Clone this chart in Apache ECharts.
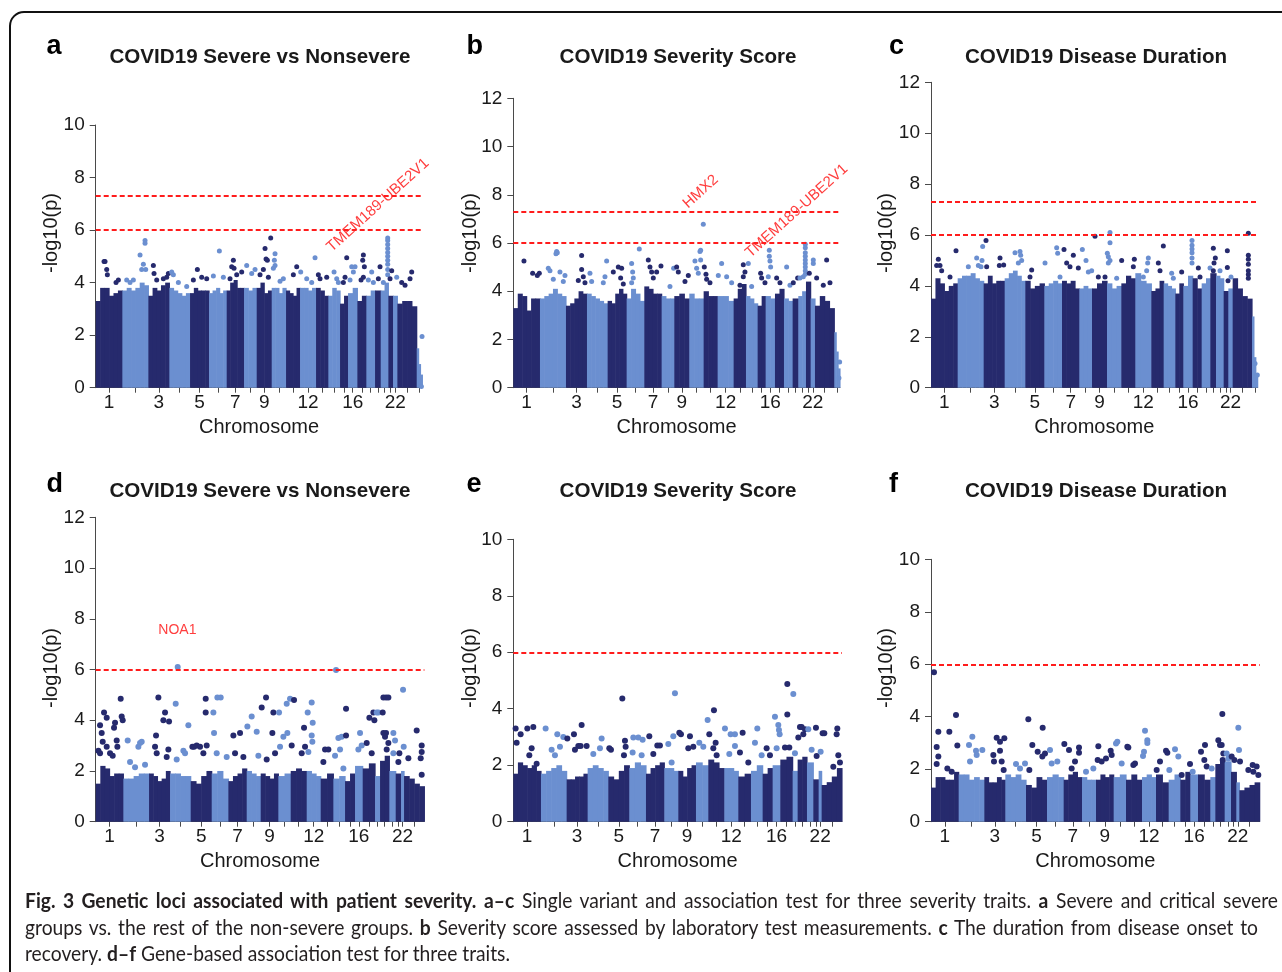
<!DOCTYPE html>
<html><head><meta charset="utf-8">
<script src="https://cdn.jsdelivr.net/npm/echarts@6/dist/echarts.min.js"></script>
<style>
html,body{margin:0;padding:0;background:#fff;width:1282px;height:972px;overflow:hidden;}
#chart{position:absolute;left:0;top:0;width:1282px;height:972px;}
#caption{position:absolute;left:25px;top:887px;color:#231f20;font-family:Lato,"Open Sans",sans-serif;transform-origin:0 0;}
#caption div{white-space:normal;text-align:justify;text-align-last:justify;overflow:hidden;}
#caption div.last{text-align:left;text-align-last:left;}
#caption b{font-weight:bold;}
</style></head><body>
<div id="chart"></div>
<div id="caption"></div>
<script>
// ---------------- DATA ----------------
// chromosome spans on the x index (SNP-level panels a-c, gene-level panels d-f)
const chromSpanSNP  = [80,78,63,62,57,53,52,38,45,43,42,48,37,35,24,28,27,26,17,23,14,13,58,17];
const chromSpanGene = [83,77,63,62,63,50,55,42,53,37,48,42,38,35,30,23,37,15,28,19,16,9,61];
const tickLabelChroms = [1,3,5,7,9,12,16,22];
const thresholdsSNP  = [7.3, 6];
const thresholdsGene = [6];

// dense body of points: upper envelope per chromosome (several bins each)
const binsA = [[3.3,3.8,3.8,3.5,3.6,3.7],[3.7,3.8,3.7,3.8,4.0,3.9],[3.5,3.8,3.7,3.9,4.0],[3.8,3.7,3.6,3.5,3.6],[3.6,3.8,3.7,3.7,3.7],[3.6,3.7,3.8,3.6,3.7],[3.7,4.0,4.1,3.8,3.8],[3.8,3.7,3.8],[3.8,4.0,3.6,3.7],[3.8,3.8,3.6,3.8],[3.7,3.6,3.5,3.8],[3.8,3.8,3.7,3.8],[3.8,3.7,3.5],[3.5,3.8,3.7],[3.2,3.5],[3.6,3.8],[3.3,3.5],[3.5,3.7],[3.7],[3.7,4.0],[3.5],[3.5],[3.2,3.3,3.3,3.1],[1.5,0.9,0.5]];
const binsB = [[3.3,3.9,3.8,3.2,3.7,3.7],[3.7,3.8,3.9,4.1,3.9,3.8],[3.4,3.5,3.7,4.0,3.9],[3.9,3.8,3.7,3.6,3.5],[3.6,3.5,3.9,4.1,3.9],[3.7,4.1,3.9,3.6],[4.2,4.1,3.9,3.9],[3.8,3.7,3.7],[3.8,3.9,3.7],[3.9,3.7,3.7],[4.0,3.8,3.8],[3.8,3.8,3.6],[3.7,4.1,4.3],[3.8,3.7,3.5],[3.4,3.8],[3.8,3.7],[3.9,4.1],[3.7,3.6],[3.7],[3.8,4.0],[4.4],[3.7],[3.4,3.8,3.6,3.3],[2.3,1.5,0.8]];
const binsC = [[3.5,4.3,4.1,3.8,4.0,4.1],[4.3,4.4,4.4,4.5,4.3,4.2],[4.1,4.4,4.1,4.2,4.2],[4.3,4.5,4.6,4.4,4.2],[4.2,3.9,4.0,4.1],[4.0,4.1,4.2,4.1],[4.2,4.1,4.2,3.9],[3.9,4.0,3.9],[3.9,4.1,4.2],[4.1,3.9,4.0],[4.1,4.4,4.3],[4.5,4.2,4.1],[3.8,3.9,4.2],[4.1,4.0,3.9],[3.7,4.1],[4.0,4.4],[4.3,3.9],[4.1,4.3],[4.5],[4.4,4.3],[3.8],[3.9],[4.3,3.9,3.6,3.5],[2.8,1.2,0.5]];
const binsD = [[1.5,2.2,2.1,1.8,1.9,1.9],[1.7,1.7,1.8,1.9,1.9],[1.9,1.8,1.6,1.7,2.0],[1.9,1.9,1.8,1.8],[1.6,1.5,1.8,2.0],[1.9,2.0,1.7],[1.6,1.8,1.9,2.1],[2.0,1.9,1.8],[1.9,1.8,1.7,1.9],[1.8,1.9],[2.0,2.1,2.0],[2.0,1.9,1.8],[1.7,1.9],[1.7,1.8],[1.6,1.9],[2.2],[2.1,2.3],[1.8],[2.4,2.6],[2.0],[1.9],[2.0],[1.8,1.7,1.5,1.4]];
const binsE = [[1.7,2.1,2.0,1.9,2.0,1.8],[1.7,1.8,1.9,2.0,1.8],[1.5,1.5,1.6,1.6,1.7],[1.9,2.0,1.9,1.8],[1.6,1.5,1.8,2.0],[1.9,2.1,2.0],[1.7,1.9,2.0,2.1],[1.9,1.9,1.8],[1.8,1.6,1.9,2.0],[2.1,2.0],[2.2,2.1,1.9],[1.9,1.9,1.8],[1.6,1.7],[1.8,2.0],[1.7,1.9],[2.0],[2.2,2.3],[1.8],[2.2,2.3],[2.1],[1.5],[1.8],[1.3,1.4,1.6,1.9]];
const binsF = [[1.3,1.7,1.7,1.6,1.6,1.9],[1.8,1.8,1.6,1.7,1.6],[1.7,1.5,1.5,1.7,1.6],[1.8,1.7,1.8,1.6],[1.4,1.3,1.7,1.6],[1.7,1.8,1.7],[1.6,1.8,1.9,1.7],[1.7,1.6,1.6],[1.6,1.8,1.7,1.8],[1.7,1.8],[1.6,1.8,1.6],[1.7,1.8,1.7],[1.8,1.5],[1.6,1.8],[1.6,1.9],[1.8],[1.8,1.6],[1.7],[2.2,2.4],[2.3],[1.9],[1.5],[1.2,1.3,1.4,1.5]];

// individual points above the dense body: [position on x index, -log10(p)]
const peaksA = [[25,4.8],[28,4.8],[33,4.5],[35,4.3],[61,4.0],[68,4.1],[93,4.1],[103,4.0],[113,4.1],[133,5.05],[138,4.5],[143,4.7],[148,5.6],[148,5.5],[150,4.5],[173,4.65],[175,4.35],[183,4.1],[203,4.15],[213,4.2],[218,4.35],[228,4.4],[233,4.3],[248,4.0],[273,3.85],[305,4.5],[293,4.1],[318,4.2],[333,4.15],[353,4.25],[371,5.2],[383,4.2],[413,4.85],[408,4.6],[415,4.55],[423,4.3],[438,4.4],[403,4.15],[453,4.65],[468,4.35],[478,4.5],[508,5.3],[511,4.9],[515,4.85],[525,5.7],[503,4.5],[493,4.3],[518,4.2],[538,5.1],[536,4.85],[538,4.65],[533,4.55],[563,4.15],[553,4.05],[603,4.6],[593,4.3],[615,4.4],[633,4.15],[658,4.95],[648,4.0],[668,4.3],[673,4.15],[693,4.2],[715,4.4],[723,4.15],[728,4.0],[753,4.95],[748,4.2],[743,4.0],[768,4.6],[778,4.6],[773,4.4],[763,4.1],[803,5.05],[801,4.85],[806,4.6],[803,4.2],[796,4.1],[828,4.4],[818,4.1],[833,4.0],[853,4.6],[848,4.15],[876,5.7],[876,5.6],[876,5.45],[876,5.3],[876,5.15],[876,5.0],[876,4.85],[876,4.7],[876,4.5],[876,4.3],[863,4.0],[883,4.15],[888,4.45],[903,4.2],[918,4.0],[948,4.4],[943,4.15],[928,3.9],[979,1.95],[977,0.05]];
const peaksB = [[32,5.25],[58,4.75],[72,4.65],[78,4.75],[105,4.95],[110,4.85],[130,5.65],[132,5.6],[128,5.55],[140,4.8],[155,4.65],[150,4.4],[120,4.5],[205,5.48],[205,4.9],[210,4.6],[215,4.35],[195,4.45],[230,4.75],[235,4.4],[270,4.35],[275,4.6],[280,5.25],[300,4.8],[315,5.0],[325,4.95],[322,4.55],[330,4.3],[355,5.15],[358,4.8],[360,4.55],[378,5.75],[355,4.35],[405,5.3],[410,5.0],[415,4.8],[430,4.8],[443,5.05],[420,4.55],[470,4.2],[481,4.95],[490,5.0],[495,4.8],[515,4.4],[525,4.65],[545,5.25],[550,4.95],[555,4.75],[562,5.3],[562,5.7],[560,5.65],[570,6.78],[573,5.0],[578,4.7],[580,4.5],[590,4.35],[615,4.65],[625,5.15],[640,4.6],[655,4.35],[690,5.1],[695,4.8],[690,4.6],[680,4.25],[705,5.15],[715,4.2],[742,4.75],[745,4.55],[755,4.35],[768,5.7],[768,5.45],[770,5.25],[772,5.0],[765,4.6],[790,4.55],[800,4.35],[820,5.0],[830,4.25],[840,4.35],[853,4.55],[876,5.95],[876,5.8],[876,5.6],[876,5.45],[876,5.3],[876,5.15],[876,5.0],[876,4.85],[876,4.7],[870,4.6],[860,4.55],[888,4.75],[900,5.3],[900,5.15],[910,4.55],[940,5.3],[950,4.35],[930,4.25],[979,1.07],[977,0.4]];
const peaksC = [[22,5.05],[17,4.8],[27,4.8],[32,4.6],[75,5.38],[57,4.35],[112,4.75],[137,5.1],[142,4.8],[155,5.55],[153,5.0],[150,4.75],[165,5.78],[167,4.75],[207,5.1],[205,4.8],[218,4.82],[252,5.3],[267,5.35],[269,5.2],[272,5.0],[262,4.9],[302,4.62],[297,4.35],[342,4.9],[377,5.5],[380,5.28],[387,4.35],[399,5.43],[407,4.9],[427,5.2],[417,4.75],[442,4.7],[454,5.43],[465,5.0],[472,4.55],[482,4.6],[492,5.95],[502,4.35],[522,4.35],[537,6.1],[537,5.7],[529,5.28],[532,5.15],[532,4.9],[537,5.0],[557,4.3],[572,5.0],[610,5.05],[607,4.75],[652,5.1],[650,4.9],[647,4.6],[637,4.35],[697,5.57],[682,4.9],[687,4.6],[727,4.3],[722,4.5],[752,4.55],[783,5.78],[783,5.6],[783,5.45],[783,5.3],[783,5.1],[783,4.9],[802,4.7],[807,4.35],[837,4.7],[847,5.48],[853,5.1],[849,4.9],[847,4.6],[867,4.6],[889,5.38],[889,4.72],[891,4.2],[900,4.35],[952,6.07],[952,5.2],[952,5.05],[952,4.85],[952,4.6],[952,4.45],[952,4.3],[979,0.5],[972,0.95]];
const peaksD = [[13,3.8],[25,4.3],[33,4.1],[18,3.5],[21,3.15],[8,2.8],[13,2.7],[33,2.95],[43,2.7],[55,3.7],[58,3.9],[65,2.95],[75,4.85],[78,4.15],[81,4.0],[63,3.2],[51,2.6],[96,3.2],[128,2.95],[133,3.1],[138,3.15],[103,2.35],[118,2.15],[148,2.25],[188,4.9],[181,3.4],[178,2.95],[183,2.7],[203,4.0],[208,4.3],[220,3.95],[218,2.85],[213,2.55],[240,4.65],[243,2.45],[263,2.8],[268,2.7],[278,3.8],[246,6.1],[290,2.95],[295,2.95],[303,3.0],[313,2.95],[330,4.85],[330,4.3],[333,3.0],[323,2.7],[353,4.3],[355,3.5],[365,4.9],[375,4.9],[363,2.7],[393,2.55],[413,3.4],[433,3.5],[418,2.7],[443,2.55],[468,4.15],[455,3.75],[483,3.55],[488,2.6],[511,4.9],[498,4.5],[530,3.5],[533,4.3],[513,2.45],[538,2.7],[550,4.3],[573,4.65],[575,3.5],[583,4.85],[563,3.35],[553,2.95],[595,4.8],[588,3.0],[625,3.7],[628,2.95],[618,2.7],[636,4.3],[648,4.7],[651,3.9],[648,3.4],[650,3.15],[638,2.75],[688,2.85],[698,2.85],[683,2.35],[718,2.6],[728,3.3],[738,3.35],[733,2.85],[721,5.98],[751,4.45],[751,3.4],[743,2.1],[793,3.5],[798,3.0],[788,2.85],[821,4.1],[833,4.3],[836,4.0],[813,3.1],[828,2.7],[843,4.3],[848,4.3],[863,4.9],[871,4.9],[878,4.9],[861,4.3],[863,3.5],[871,3.5],[868,3.35],[878,3.1],[873,2.85],[893,3.5],[898,3.2],[893,2.7],[911,2.7],[908,2.35],[922,5.2],[924,2.95],[963,3.6],[978,3.0],[978,2.75],[975,2.5],[978,1.85],[938,2.5]];
const peaksE = [[7,3.3],[22,3.1],[10,2.8],[42,3.3],[60,3.35],[55,2.6],[48,2.35],[70,2.05],[97,3.3],[132,3.1],[150,3.0],[162,2.95],[115,2.55],[140,2.65],[125,2.35],[182,3.1],[205,3.42],[195,2.68],[202,2.68],[220,2.68],[185,2.55],[265,2.95],[260,2.6],[240,2.4],[288,2.6],[293,2.55],[327,4.36],[335,2.87],[332,2.35],[337,2.65],[360,2.98],[375,2.98],[388,2.9],[358,2.45],[385,2.35],[408,3.03],[432,2.7],[440,2.7],[420,2.4],[465,2.75],[485,4.55],[480,3.03],[475,2.1],[498,3.15],[503,3.1],[530,3.03],[525,2.6],[540,2.65],[558,2.8],[583,3.6],[570,2.65],[602,3.95],[588,3.1],[607,2.8],[600,2.6],[610,2.35],[635,3.3],[652,3.1],[665,3.1],[665,2.68],[648,2.4],[688,3.15],[680,2.45],[705,2.1],[732,3.3],[725,2.8],[745,2.35],[760,2.6],[770,2.35],[785,3.72],[795,3.42],[797,3.25],[799,3.1],[790,2.6],[822,4.88],[822,3.8],[840,4.52],[815,2.63],[828,2.63],[845,2.42],[860,3.35],[865,3.35],[855,2.98],[870,3.1],[875,3.27],[885,3.27],[895,2.55],[908,3.33],[910,2.33],[928,3.13],[933,3.13],[922,2.48],[972,3.3],[970,3.1],[975,2.35],[980,2.1],[960,1.95]];
const peaksF = [[9,5.7],[17,2.85],[22,3.43],[22,2.48],[17,2.2],[55,3.43],[75,4.07],[79,2.9],[49,2.03],[62,1.9],[114,2.92],[124,3.24],[135,2.7],[137,2.54],[154,2.73],[117,2.29],[187,2.54],[189,2.29],[197,3.2],[207,3.05],[207,2.7],[212,2.29],[220,3.18],[218,1.97],[255,2.2],[282,2.22],[267,2.03],[292,3.9],[295,1.97],[304,2.92],[320,2.67],[335,3.58],[334,2.48],[342,2.6],[357,2.73],[362,2.22],[379,2.29],[400,2.96],[414,2.73],[432,2.29],[444,2.83],[444,2.63],[422,2.03],[465,1.9],[487,2.03],[502,2.88],[500,2.35],[512,2.29],[525,2.41],[539,2.7],[542,2.54],[555,2.98],[559,3.05],[572,2.22],[589,2.86],[592,2.83],[607,2.16],[612,2.22],[642,3.47],[649,3.1],[649,3.0],[636,2.5],[639,2.67],[677,1.97],[705,2.7],[709,2.63],[687,2.29],[732,2.76],[715,1.97],[742,2.48],[752,1.78],[777,2.2],[810,2.67],[822,2.92],[785,1.9],[820,2.35],[827,2.1],[842,2.03],[874,4.1],[862,3.1],[867,2.92],[872,2.92],[877,2.6],[875,2.35],[887,2.6],[892,2.41],[902,2.48],[910,2.35],[922,3.58],[924,2.73],[927,2.29],[952,1.97],[965,2.16],[967,1.9],[977,2.1],[982,1.78]];

// gene labels: [position on x index, -log10(p) of label centre, text]
const annotA = [[847, 6.95, 'TMEM189-UBE2V1']];
const annotB = [[562, 8.13, 'HMX2'], [850, 7.33, 'TMEM189-UBE2V1']];
const annotD = [[245, 7.54, 'NOA1']];

const titles = ['COVID19 Severe vs Nonsevere','COVID19 Severity Score','COVID19 Disease Duration','COVID19 Severe vs Nonsevere','COVID19 Severity Score','COVID19 Disease Duration'];
const panelLetters = ['a','b','c','d','e','f'];
const yMax = [10,12,12,12,10,10];

const captionLines = [
 '<b>Fig. 3 Genetic loci associated with patient severity.</b> <b>a–c</b> Single variant and association test for three severity traits. <b>a</b> Severe and critical severe',
 'groups vs. the rest of the non-severe groups. <b>b</b> Severity score assessed by laboratory test measurements. <b>c</b> The duration from disease onset to',
 'recovery. <b>d–f</b> Gene-based association test for three traits.'
];

// ---------------- LAYOUT / STYLE ----------------
const DARK = '#262a6d', LIGHT = '#6b8fd0', RED = '#ff1c1c', AXIS = '#4a4a4a', TXT = '#1a1a1a';
const FONT = '"Liberation Sans", Arial, Helvetica, sans-serif';
const layout = [
 {left:95.7, top:125,   bottom:387.7, spans:chromSpanSNP,  bins:binsA, peaks:peaksA, thr:thresholdsSNP,  annot:annotA, rot:42, tx:260,  ty:57,    lx:46.5,  ly:33.5, nx:51.5,  ny:233, size:5},
 {left:513.3,top:98.3,  bottom:387.7, spans:chromSpanSNP,  bins:binsB, peaks:peaksB, thr:thresholdsSNP,  annot:annotB, rot:42, tx:678,  ty:57,    lx:466.5, ly:33.5, nx:470,   ny:233, size:5},
 {left:931,  top:82.3,  bottom:387.7, spans:chromSpanSNP,  bins:binsC, peaks:peaksC, thr:thresholdsSNP,  annot:[],     rot:42, tx:1096, ty:57,    lx:889,   ly:33.5, nx:886.5, ny:233, size:5},
 {left:95.7, top:517.3, bottom:821.7, spans:chromSpanGene, bins:binsD, peaks:peaksD, thr:thresholdsGene, annot:annotD, rot:0,  tx:260,  ty:491.5, lx:46.5,  ly:471.5,nx:51.5,  ny:668, size:6},
 {left:513.3,top:539.3, bottom:821.7, spans:chromSpanGene, bins:binsE, peaks:peaksE, thr:thresholdsGene, annot:[],     rot:0,  tx:678,  ty:491.5, lx:466.5, ly:471.5,nx:470,   ny:668, size:6},
 {left:931,  top:559.3, bottom:821.7, spans:chromSpanGene, bins:binsF, peaks:peaksF, thr:thresholdsGene, annot:[],     rot:0,  tx:1096, ty:491.5, lx:889,   ly:471.5,nx:886.5, ny:668, size:6}
];

function starts(spans){ const s=[]; let c=0; spans.forEach(v=>{s.push(c); c+=v;}); return s; }
function chromOf(spans, u){ let c=0; for(let i=0;i<spans.length;i++){ if(u < c+spans[i]) return i; c+=spans[i]; } return spans.length-1; }

const grids=[], xAxes=[], yAxes=[], series=[], graphics=[];
layout.forEach((p,i)=>{
  const total = p.spans.reduce((a,b)=>a+b,0);
  const st = starts(p.spans);
  const centers = p.spans.map((s,k)=>st[k]+s/2);
  const labelVals = tickLabelChroms.map(c=>centers[c-1]);
  grids.push({left:p.left, top:p.top, width: total/3, height: p.bottom-p.top, containLabel:false, outerBoundsMode:'none'});
  xAxes.push({type:'value', gridIndex:i, min:0, max:total,
    name:'Chromosome', nameLocation:'middle', nameGap:30, nameTextStyle:{fontSize:20, color:TXT, fontFamily:FONT},
    axisLine:{show:true, onZero:false, lineStyle:{color:AXIS, width:1}}, splitLine:{show:false},
    axisTick:{show:true, customValues:centers, length:5, lineStyle:{color:AXIS}},
    axisLabel:{show:true, customValues:labelVals, margin:6, fontSize:19, color:TXT, fontFamily:FONT,
      formatter:(v)=>{ let best=0, bd=1e9; centers.forEach((c,k)=>{const d=Math.abs(c-v); if(d<bd){bd=d;best=k;}}); return String(best+1);} }
  });
  yAxes.push({type:'value', gridIndex:i, min:0, max:yMax[i], interval:2,
    axisLine:{show:true, lineStyle:{color:AXIS, width:1}}, splitLine:{show:false},
    axisTick:{show:true, length:6, lineStyle:{color:AXIS}},
    axisLabel:{show:true, margin:11, fontSize:19, color:TXT, fontFamily:FONT}
  });
  // dense body
  const binData=[];
  p.spans.forEach((s,k)=>{ const hs=p.bins[k]; const w=s/hs.length; hs.forEach((h,j)=>binData.push([st[k]+j*w, st[k]+(j+1)*w, h, k%2])); });
  series.push({type:'custom', xAxisIndex:i, yAxisIndex:i, silent:true, z:2, data:binData, encode:{x:[0,1], y:2},
    renderItem:(params, api)=>{
      const a = api.coord([api.value(0), 0]);
      const b = api.coord([api.value(1), api.value(2)]);
      return {type:'rect', shape:{x:a[0], y:b[1], width:b[0]-a[0]+0.6, height:a[1]-b[1]}, style:{fill: api.value(3)===0?DARK:LIGHT}};
    }});
  // points
  series.push({type:'scatter', xAxisIndex:i, yAxisIndex:i, silent:true, z:3, symbolSize:p.size,
    data:p.peaks.map(q=>({value:q, itemStyle:{color: chromOf(p.spans,q[0])%2===0?DARK:LIGHT, opacity:1}})),
    markLine:{silent:true, symbol:['none','none'], label:{show:false}, animation:false,
      lineStyle:{color:RED, type:[5,3], width:1.8}, data:p.thr.map(t=>({yAxis:t}))}
  });
  if(p.annot.length){
    series.push({type:'scatter', xAxisIndex:i, yAxisIndex:i, silent:true, z:4, symbolSize:0,
      data:p.annot.map(a=>({value:[a[0],a[1]], name:a[2]})),
      label:{show:true, position:'inside', formatter:'{b}', rotate:p.rot, color:'#ff0d0d', fontSize:p.rot?15:14, fontFamily:FONT, align:'center', verticalAlign:'middle'}
    });
  }
  graphics.push({type:'text', x:p.tx, y:p.ty, style:{text:titles[i], font:'bold 20.6px '+FONT, fill:TXT, textAlign:'center', textVerticalAlign:'middle'}});
  graphics.push({type:'text', x:p.lx, y:p.ly, style:{text:panelLetters[i], font:'bold 27px '+FONT, fill:'#000', align:'left', verticalAlign:'top'}});
  graphics.push({type:'text', x:p.nx, y:p.ny, rotation:Math.PI/2, style:{text:'-log10(p)', font:'20px '+FONT, fill:TXT, textAlign:'center', textVerticalAlign:'middle'}});
});
graphics.push({type:'rect', shape:{x:10, y:12, width:1320, height:1020, r:14}, style:{fill:'none', stroke:'#111', lineWidth:2}, z:100});

const chart = echarts.init(document.getElementById('chart'), null, {renderer:'canvas'});
chart.setOption({animation:false, backgroundColor:'#fff', grid:grids, xAxis:xAxes, yAxis:yAxes, series:series, graphic:graphics});

// caption: justified lines, horizontally condensed to match the narrow journal font
const cap = document.getElementById('caption');
const targets = [1253, 1233];
const FS = 20.5;
const probe = document.createElement('span');
probe.style.cssText='white-space:nowrap;position:absolute;visibility:hidden;font-size:'+FS+'px;';
cap.appendChild(probe);
probe.innerHTML = captionLines[0]; const w0 = probe.getBoundingClientRect().width;
probe.innerHTML = captionLines[1]; const w1 = probe.getBoundingClientRect().width;
cap.removeChild(probe);
const sx = Math.min(1, (targets[0]-40)/w0, (targets[1]-40)/w1);
cap.style.transform = 'scaleX('+sx+')';
captionLines.forEach((t,k)=>{
  const d=document.createElement('div');
  d.innerHTML=t; d.style.fontSize=FS+'px'; d.style.lineHeight='26.5px'; d.style.height='26.5px';
  if(k<2){ d.style.width=(targets[k]/sx)+'px'; } else { d.className='last'; d.style.width=(1253/sx)+'px'; }
  cap.appendChild(d);
});
</script>
</body></html>
